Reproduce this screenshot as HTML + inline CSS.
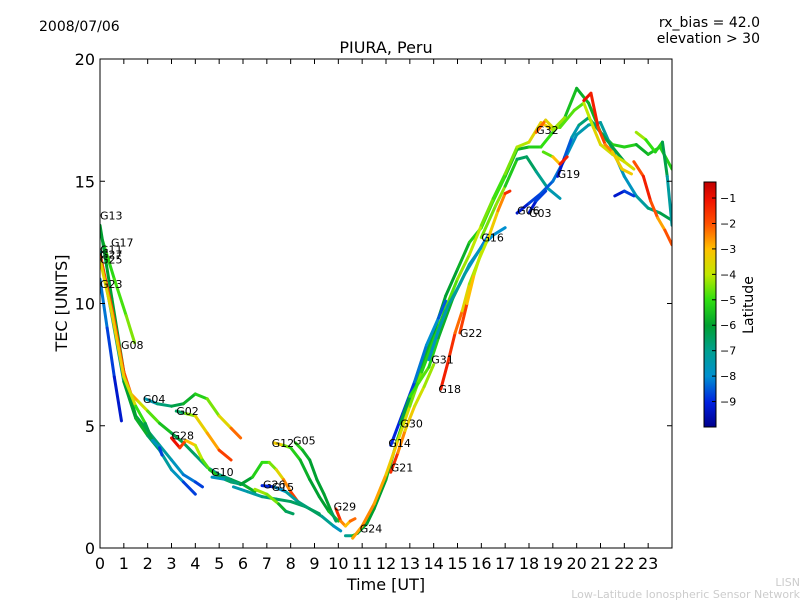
<!DOCTYPE html>
<html><head><meta charset="utf-8">
<style>
body{margin:0;background:#fff;}
svg text{font-family:"DejaVu Sans","Liberation Sans",sans-serif;}
</style></head>
<body>
<svg id="chart" width="800" height="600" viewBox="0 0 800 600" xmlns="http://www.w3.org/2000/svg">
<defs>
<linearGradient id="cmap" x1="0" y1="1" x2="0" y2="0">
<stop offset="0" stop-color="#00008c"/><stop offset="0.10" stop-color="#0020e0"/>
<stop offset="0.207" stop-color="#0090d0"/><stop offset="0.31" stop-color="#00a090"/>
<stop offset="0.415" stop-color="#00a030"/><stop offset="0.52" stop-color="#30e010"/>
<stop offset="0.622" stop-color="#c0e800"/><stop offset="0.726" stop-color="#ffc000"/>
<stop offset="0.83" stop-color="#ff5000"/><stop offset="0.93" stop-color="#f01000"/>
<stop offset="1" stop-color="#c00000"/>
</linearGradient>
<clipPath id="plotclip"><rect x="100" y="59" width="572" height="489"/></clipPath>
</defs>
<rect width="800" height="600" fill="#fff"/>
<text x="39" y="31" font-size="14">2008/07/06</text>
<text x="760" y="27" font-size="14" text-anchor="end">rx_bias = 42.0</text>
<text x="760" y="43" font-size="14" text-anchor="end">elevation &gt; 30</text>
<text x="386" y="53" font-size="16" text-anchor="middle">PIURA, Peru</text>
<text x="386" y="590" font-size="16" text-anchor="middle">Time [UT]</text>
<text x="67" y="303" font-size="16" text-anchor="middle" transform="rotate(-90 67 303)">TEC [UNITS]</text>
<g id="marks" clip-path="url(#plotclip)"></g>
<g id="labels"></g>
<rect x="100" y="59" width="572" height="489" fill="none" stroke="#000" stroke-width="1"/>
<g id="axes"></g>
<rect x="704" y="182" width="12" height="245" fill="url(#cmap)" stroke="#000" stroke-width="1"/>
<g id="cbticks"></g>
<text x="753" y="305" font-size="14" text-anchor="middle" transform="rotate(-90 753 305)">Latitude</text>
<text x="800" y="586" font-size="11" fill="#ccc" text-anchor="end">LISN</text>
<text x="800" y="598" font-size="11" fill="#ccc" text-anchor="end">Low-Latitude Ionospheric Sensor Network</text>
</svg>
<script>
const xTicks = [0,1,2,3,4,5,6,7,8,9,10,11,12,13,14,15,16,17,18,19,20,21,22,23];
const yTicks = [0,5,10,15,20];
const cbTicks = [-1,-2,-3,-4,-5,-6,-7,-8,-9];
// tracks: [hour, tec, latitude]
const trackG17 = [[0.1,12.6,-5.2],[0.6,11,-5],[1.1,9.5,-4.7],[1.45,8.4,-4.2]];
const trackG13 = [[0,13.2,-6],[0.5,10.2,-6],[1,7.2,-6],[1.5,5.4,-6],[2,4.8,-6.5],[2.5,4.2,-7],[3,3.6,-7.5],[3.5,3,-8],[4,2.7,-8.5],[4.3,2.5,-9]];
const trackG23 = [[0,11,-8],[0.3,9,-8.5],[0.6,7,-9],[0.9,5.2,-9.5]];
const trackG11 = [[0,12.1,-7],[0.5,9.5,-7],[1,6.8,-6.5],[1.5,5.3,-5.5],[2,4.6,-6],[2.5,4,-7],[3,3.2,-7.5],[3.5,2.7,-8],[4,2.2,-9.5]];
const trackG08 = [[0,12,-1.5],[0.5,9.8,-2],[1,7.2,-1.5],[1.3,6.3,-2.5],[1.6,6,-3],[2,5.6,-4.5],[2.5,5.1,-5],[3,4.7,-6],[3.5,4.3,-6.5],[4,3.8,-6.5],[4.5,3.3,-7],[5,3,-7],[5.5,2.8,-6.5],[6,2.6,-6],[6.5,2.3,-5.5]];
const trackG25 = [[0,11.8,-3.5],[0.5,9.6,-3.5],[1,7,-3],[1.5,5.8,-4.5],[1.9,5.1,-5.5],[2.2,4.4,-7],[2.5,4.1,-8.5],[2.6,3.8,-9]];
const trackG04 = [[1.9,6.1,-8],[2.4,5.9,-7],[3,5.8,-6.5],[3.5,5.9,-6],[4,6.3,-5.5],[4.5,6.1,-5],[5,5.4,-4],[5.5,4.9,-3],[5.9,4.5,-1.5]];
const trackG02 = [[3.2,5.6,-8],[3.6,5.5,-5],[4,5.4,-3.8],[4.5,4.7,-3],[5,4,-2.5],[5.5,3.6,-1]];
const trackG28 = [[3,4.5,-1],[3.35,4.1,-1],[3.6,4.4,-2.5],[4,4.2,-3.5],[4.3,3.6,-4.5],[4.6,3.2,-5],[5,2.9,-6],[5.5,2.7,-6.5],[6,2.6,-6.5]];
const trackG10 = [[4.7,2.9,-8.5],[5.3,2.8,-7],[5.9,2.6,-6.5],[6.4,2.9,-5.5],[6.8,3.5,-5],[7.1,3.5,-5],[7.4,3.2,-4],[7.7,2.8,-3],[8,2.3,-2],[8.3,1.9,-1.5]];
const trackG20 = [[5.6,2.5,-7.5],[6.2,2.3,-7.5],[6.8,2.1,-7],[7.4,2,-6.5],[8,1.9,-6.5],[8.6,1.7,-6.5],[9.2,1.4,-6.5]];
const trackG27 = [[6.5,2.4,-4.5],[7,2.2,-4],[7.5,1.8,-5],[7.8,1.5,-6.5],[8.1,1.4,-6.5]];
const trackG26 = [[6.8,2.55,-9.5],[7.3,2.5,-8.5],[7.8,2.3,-7.5],[8.3,1.9,-7],[8.8,1.6,-6.5],[9.3,1.3,-6.5],[9.8,0.9,-7.5],[10.1,0.7,-8]];
const trackG12 = [[7.3,4.3,-2.5],[7.7,4.2,-4],[8,4.1,-5],[8.4,3.6,-5.5],[8.8,2.8,-6],[9.2,2.1,-6],[9.6,1.5,-6],[10,1.1,-5]];
const trackG05 = [[8.2,4.3,-5],[8.5,4,-5.5],[8.8,3.6,-6],[9.1,2.8,-6],[9.4,2.2,-6],[9.7,1.5,-6],[9.9,1.1,-7]];
const trackG29 = [[9.9,1.6,-1],[10.1,1.1,-2],[10.3,0.9,-3],[10.5,1.1,-3],[10.7,1.2,-1.5]];
const trackG24 = [[10.3,0.5,-9],[10.6,0.5,-5],[10.8,0.6,-6],[11.2,1,-6],[11.5,1.6,-6],[12,2.8,-6],[12.5,4.5,-5.5],[13,6,-5.5],[13.5,7.4,-5.5],[14,8.8,-6],[14.5,10.3,-6],[15,11.4,-6],[15.5,12.5,-5.5],[16,13.1,-5],[16.5,14.2,-5],[17,15.2,-5],[17.5,16.3,-6],[18,16.4,-5.5],[18.5,16.4,-5],[19,17,-5],[19.5,17.6,-5.5],[20,18.8,-5.5],[20.5,18.2,-6],[21,17,-5.5],[21.5,16.5,-5.5],[22,16.4,-5],[22.5,16.5,-5.5],[23,16.1,-6],[23.5,16.4,-5],[24,15.5,-5.5]];
const trackG09 = [[10.6,0.4,-3],[11,0.9,-2.5],[11.5,1.8,-2.5],[12,3,-3],[12.5,4.4,-3.5],[13,5.8,-4],[13.5,7.2,-5],[14,8.5,-5.5],[14.5,9.8,-5],[15,11,-4.5],[15.5,12,-4],[16,13.2,-4],[16.5,14.3,-5],[17,15.3,-4.8],[17.5,16.4,-4.2],[18,16.6,-4],[18.5,17.4,-3],[19,17.1,-3.5],[19.5,17.6,-5]];
const trackG14 = [[12.2,4.2,-9],[12.7,5.5,-9],[13.2,6.8,-8.5],[13.7,8.3,-8],[14.2,9.4,-8],[14.5,10.1,-9]];
const trackG30 = [[12.6,5.1,-7],[13,6.2,-5.5],[13.4,6.8,-4.5],[13.8,7.4,-5],[14.2,8.6,-5.5],[14.8,10.2,-6],[15.3,11.2,-7.5],[15.8,12,-8.5],[16.3,12.8,-8]];
const trackG21 = [[12.2,3.1,-1],[12.5,3.9,-2],[12.8,4.8,-3],[13.2,5.8,-3.5],[13.6,6.6,-4],[14,7.5,-4.5]];
const trackG31 = [[13.8,7.7,-8],[14.2,8.9,-7.5],[14.6,9.9,-7.5],[15.1,10.8,-7],[15.5,11.6,-7.5],[16,12.3,-8],[16.5,12.8,-8],[17,13.1,-8]];
const trackG18 = [[14.3,6.5,-1],[14.6,7.6,-1.5],[14.9,8.8,-1.5],[15.2,9.7,-3],[15.5,10.8,-4],[15.9,11.8,-4.5],[16.3,12.7,-3.5],[16.7,13.8,-3],[17,14.5,-2],[17.2,14.6,-1]];
const trackG22 = [[15.1,8.8,-1],[15.4,10,-2.5],[15.7,11.2,-3.5],[16,12.1,-4.5]];
const trackG16 = [[16.0,12.7,-4.5],[16.6,14,-4.5],[17,14.8,-4.2],[17.5,15.9,-6.5],[17.9,16,-6.5],[18.3,15.4,-6.5],[18.8,14.7,-7.5],[19.3,14.3,-7.5]];
const trackG06 = [[17.5,13.7,-9.5],[18,14.1,-9],[18.5,14.5,-8.5],[19,15,-8.5],[19.5,15.9,-8],[20,16.9,-7.5],[20.5,17.3,-7.5],[21,17.4,-7],[21.5,16.3,-7.5],[22,15.2,-8],[22.5,14.4,-7.5],[23,13.9,-7],[23.5,13.7,-6.5],[24,13.4,-6]];
const trackG03 = [[18,13.7,-9.5],[18.3,14.2,-9],[18.7,14.6,-8.5]];
const trackG19 = [[19.2,15.2,-9.5],[19.5,16,-9],[19.8,16.8,-8],[20.1,17.3,-7],[20.5,17.6,-6.5],[21,17,-6.5],[21.5,16.4,-6],[22,15.8,-6.5]];
const trackG32 = [[18.3,17,-1.5],[18.7,17.5,-3],[19,17.2,-4],[19.3,17.2,-4.5],[19.9,17.9,-5],[20.3,18.2,-4.5],[20.7,17.2,-3.5],[21,16.5,-3.5],[21.5,16.1,-4],[22,15.8,-3.5],[22.4,15.5,-4]];
const trackG07 = [[18.6,16.2,-5],[19,16,-4.5],[19.3,15.7,-1.5],[19.6,16,-1]];
const trackG01 = [[20.3,18.3,-1],[20.6,18.6,-1],[20.9,17.2,-1.5],[21.2,16.5,-2],[21.5,16.2,-3],[21.9,15.5,-3.5],[22.3,15.3,-3]];
const trackG20b = [[22.4,15.8,-3],[22.8,15.2,-1],[23.1,14.2,-1.5],[23.4,13.5,-2.5],[23.7,13,-3],[24,12.4,-1]];
const trackG27b = [[21.6,14.4,-9.5],[22,14.6,-9],[22.4,14.4,-8.5]];
const trackG15b = [[22.5,17,-3.5],[22.9,16.7,-5],[23.3,16.2,-5],[23.6,16.6,-5.5],[23.8,15.2,-7],[24,13.2,-7.5]];
const tracks = [trackG17,trackG13,trackG23,trackG11,trackG08,trackG25,trackG04,trackG02,trackG28,trackG10,trackG20,trackG27,trackG26,trackG12,trackG05,trackG29,trackG24,trackG09,trackG14,trackG30,trackG21,trackG31,trackG18,trackG22,trackG16,trackG06,trackG03,trackG19,trackG32,trackG07,trackG01,trackG20b,trackG27b,trackG15b];
const labelNames = ["G13","G17","G11","G27","G25","G23","G08","G04","G02","G28","G10","G26","G15","G12","G05","G29","G24","G21","G14","G30","G31","G18","G22","G16","G06","G03","G32","G19"];
const labelT = [0,0.46,0,0,0,0,0.88,1.8,3.2,3,4.66,6.84,7.2,7.2,8.1,9.8,10.9,12.2,12.1,12.6,13.9,14.2,15.1,16.0,17.5,18.0,18.3,19.2];
const labelV = [13.6,12.5,12.2,12.0,11.8,10.8,8.3,6.1,5.6,4.6,3.1,2.6,2.5,4.3,4.4,1.7,0.8,3.3,4.3,5.1,7.7,6.5,8.8,12.7,13.8,13.7,17.1,15.3];

const NS='http://www.w3.org/2000/svg';
const X0=100,X1=672,Y0=548,Y1=59;
const xS=t=>X0+t*(X1-X0)/24;
const yS=v=>Y0-v*(Y0-Y1)/20;
const CB_TOP=-0.37,CB_BOT=-10,CBY0=182,CBY1=427;
const cbY=l=>CBY0+(CB_TOP-l)/(CB_TOP-CB_BOT)*(CBY1-CBY0);
const cstops=[[0,[0,0,140]],[0.10,[0,32,224]],[0.207,[0,144,208]],[0.31,[0,160,144]],[0.415,[0,160,48]],[0.52,[48,224,16]],[0.622,[192,232,0]],[0.726,[255,192,0]],[0.83,[255,80,0]],[0.93,[240,16,0]],[1,[192,0,0]]];
function color(l){
  let f=(l-CB_BOT)/(CB_TOP-CB_BOT); f=Math.max(0,Math.min(1,f));
  for(let i=1;i<cstops.length;i++){
    if(f<=cstops[i][0]){const a=cstops[i-1],b=cstops[i];const u=(f-a[0])/(b[0]-a[0]);
      const c=a[1].map((v,k)=>Math.round(v+(b[1][k]-v)*u));return `rgb(${c})`;}
  }
  return 'rgb(192,0,0)';
}
const marks=document.getElementById('marks');
tracks.forEach((tr,ti)=>{
  for(let i=1;i<tr.length;i++){
    const p=tr[i-1],q=tr[i];
    const ln=document.createElementNS(NS,'line');
    ln.setAttribute('x1',xS(p[0]));ln.setAttribute('y1',yS(p[1]));
    ln.setAttribute('x2',xS(q[0]));ln.setAttribute('y2',yS(q[1]));
    ln.setAttribute('stroke',color((p[2]+q[2])/2));
    ln.setAttribute('stroke-width','3');
    ln.setAttribute('stroke-linecap','round');
    
    
    marks.appendChild(ln);
  }
});
const labels=document.getElementById('labels');
labelNames.forEach((n,i)=>{
  const t=document.createElementNS(NS,'text');
  t.setAttribute('x',xS(labelT[i]));t.setAttribute('y',yS(labelV[i])+4);
  t.setAttribute('font-size','11');
  t.textContent=n;
  
  
  labels.appendChild(t);
});
const axes=document.getElementById('axes');
function mk(tag,attrs){const e=document.createElementNS(NS,tag);for(const k in attrs)e.setAttribute(k,attrs[k]);axes.appendChild(e);return e;}
xTicks.forEach(v=>{
  const x=xS(v);
  const a=mk('line',{x1:x,y1:Y0,x2:x,y2:Y0-5,stroke:'#000'});
  
  
  const b=mk('line',{x1:x,y1:Y1,x2:x,y2:Y1+5,stroke:'#000'});
  
  
  const t=mk('text',{x:x,y:569,'font-size':16,'text-anchor':'middle'});t.textContent=v;
  
  
});
yTicks.forEach(v=>{
  const y=yS(v);
  const a=mk('line',{x1:X0,y1:y,x2:X0+5,y2:y,stroke:'#000'});
  
  
  const b=mk('line',{x1:X1,y1:y,x2:X1-5,y2:y,stroke:'#000'});
  
  
  const t=mk('text',{x:95,y:y+6,'font-size':16,'text-anchor':'end'});t.textContent=v;
  
  
});
const cbt=document.getElementById('cbticks');
cbTicks.forEach(v=>{
  const y=cbY(v);
  const l=document.createElementNS(NS,'line');
  l.setAttribute('x1',712);l.setAttribute('x2',716);l.setAttribute('y1',y);l.setAttribute('y2',y);l.setAttribute('stroke','#000');
  
  
  cbt.appendChild(l);
  const t=document.createElementNS(NS,'text');
  t.setAttribute('x',720);t.setAttribute('y',y+4);t.setAttribute('font-size','11');
  t.textContent='\u2212'+Math.abs(v);
  
  
  cbt.appendChild(t);
});
</script>
</body></html>
